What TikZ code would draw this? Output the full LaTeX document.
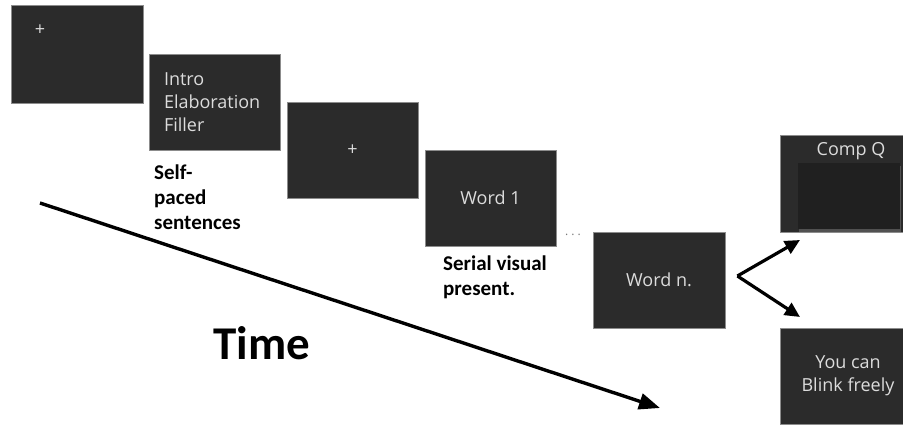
\documentclass[tikz,border=0pt]{standalone}
\usepackage{fontspec}
\setmainfont{Open Sans}
\newfontfamily\notefont{Carlito}
\usetikzlibrary{arrows.meta, shadows}
\definecolor{screenfill}{RGB}{43, 43, 43}
\definecolor{screenedge}{RGB}{140, 140, 140}
\definecolor{screentext}{RGB}{220, 220, 220}
\definecolor{coverfill}{RGB}{32, 32, 32}
\definecolor{gapgray}{RGB}{120, 120, 120}

\begin{document}
\begin{tikzpicture}[x=1pt, y=-1pt,
  screen/.style={draw=screenedge, line width=0.8pt, fill=screenfill, inner sep=0pt,
    minimum width=131pt, minimum height=96pt, text=screentext,
    font=\fontsize{18}{23}\selectfont, align=center},
  sidescreen/.style={screen, minimum width=136pt},
  cover/.style={fill=coverfill, inner sep=0pt, minimum width=102pt, minimum height=66pt,
    drop shadow={shadow xshift=1pt, shadow yshift=-3pt, opacity=0.45}},
  note/.style={font=\notefont\bfseries\fontsize{21}{25}\selectfont, align=left,
    inner sep=0pt, anchor=north west},
  cross/.style={text=screentext, font=\fontsize{18}{18}\selectfont, inner sep=0pt},
  arr/.style={-{Triangle[length=15pt, width=14pt]}, line width=3.2pt},
  timearr/.style={-{Triangle[length=21pt, width=16pt]}, line width=3.4pt}
]
\useasboundingbox (0,0) rectangle (903,425);

% Screens of one trial
\node[screen, minimum width=132pt, minimum height=98pt] (fix1) at (77,54) {};
\node[cross] (fix1cross) at (40,30) {+};
\node[screen, align=left, text width=101pt] (intro) at (214.5,102) {Intro\\Elaboration\\Filler};
\node[screen, font=\fontsize{18}{18}\selectfont] (fix2) at (352.5,150) {+};
\node[screen] (word1) at (490.5,198) {Word 1};
\node[text=gapgray, font=\fontsize{12}{12}\selectfont, inner sep=0pt] (gap) at (573,235)
  {.\hspace{3pt}.\hspace{3pt}.};
\node[screen, minimum width=132pt] (wordn) at (659,280) {Word n.};

% End of trial
\node[sidescreen, minimum height=97pt] (compq) at (848,183.5) {};
\node[text=screentext, font=\fontsize{18}{23}\selectfont] (compqtext) at (851,151) {Comp Q};
\node[cover] (compqcover) at (849,196) {};
\node[sidescreen] (blink) at (848,376) {You can\\Blink freely};

% Notes
\node[note] (selfpaced) at (154,165) {Self-\\paced\\sentences};
\node[note] (serial) at (443,256) {Serial visual\\present.};
\node[font=\notefont\bfseries\fontsize{47}{47}\selectfont, anchor=base west, inner sep=0pt] (time) at (213,359) {Time};

% Arrows
\coordinate (tstart) at (40,203);
\coordinate (tend) at (660,408);
\coordinate (fork) at ([shift={(12,-4)}]wordn.east);
\coordinate (upend) at (800,240);
\coordinate (downend) at (800,317);
\draw[timearr] (tstart) -- (tend);
\draw[arr] (fork) -- (upend);
\draw[arr] (fork) -- (downend);

\end{tikzpicture}
\end{document}
